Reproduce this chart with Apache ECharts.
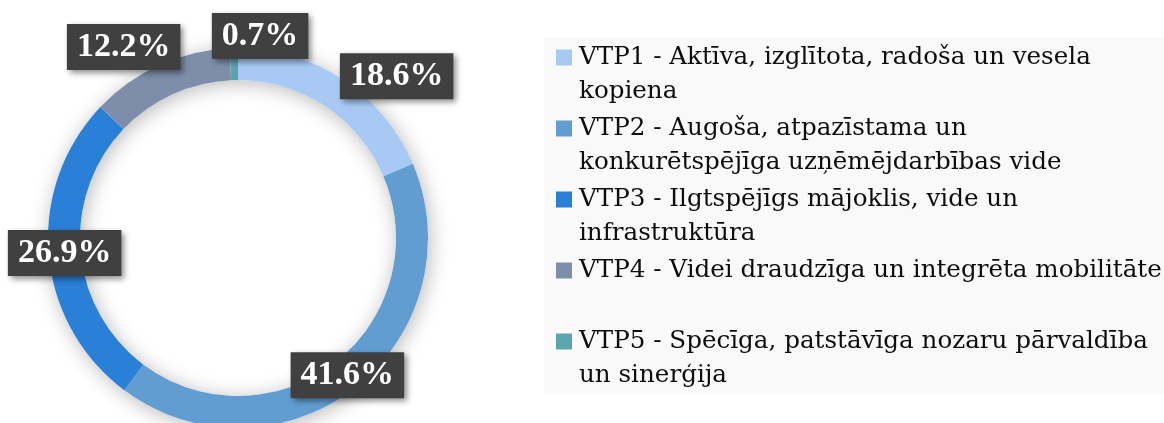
<!DOCTYPE html>
<html>
<head>
<meta charset="utf-8">
<script src="https://cdn.jsdelivr.net/npm/echarts@6/dist/echarts.min.js"></script>
<style>
html,body{margin:0;padding:0;background:#fff;}
#chart{width:1164px;height:423px;}
</style>
</head>
<body>
<div id="chart"></div>
<script>
const categories = [
  'VTP1 - Aktīva, izglītota, radoša un vesela kopiena',
  'VTP2 - Augoša, atpazīstama un konkurētspējīga uzņēmējdarbības vide',
  'VTP3 - Ilgtspējīgs mājoklis, vide un infrastruktūra',
  'VTP4 - Videi draudzīga un integrēta mobilitāte',
  'VTP5 - Spēcīga, patstāvīga nozaru pārvaldība un sinerģija'
];
const values = [18.6, 41.6, 26.9, 12.2, 0.7];
const legendLines = [
  ['VTP1 - Aktīva, izglītota, radoša un vesela', 'kopiena'],
  ['VTP2 - Augoša, atpazīstama un', 'konkurētspējīga uzņēmējdarbības vide'],
  ['VTP3 - Ilgtspējīgs mājoklis, vide un', 'infrastruktūra'],
  ['VTP4 - Videi draudzīga un integrēta mobilitāte', ''],
  ['VTP5 - Spēcīga, patstāvīga nozaru pārvaldība', 'un sinerģija']
];
const colors = ['#a9c9f5', '#629dd2', '#2a7fd6', '#7e8eaa', '#5aa5ae'];
// label nudges (px) relative to the ring-middle position
const labelShift = [[61, -14], [0, -2], [3, 0], [-41, -30], [26, -25]];

const rich = {
  t: { fontFamily: 'DejaVu Serif', fontSize: 24.6, lineHeight: 34, color: '#0d0d0d' },
  g: { width: 7, lineHeight: 34 },
  s: { width: 23, lineHeight: 34 }
};
colors.forEach((c, i) => {
  rich['c' + i] = { width: 16, height: 16, lineHeight: 34, backgroundColor: c };
});

const chart = echarts.init(document.getElementById('chart'), null, { renderer: 'canvas' });
chart.setOption({
  backgroundColor: '#ffffff',
  animation: false,
  legend: {
    orient: 'vertical',
    left: 544,
    top: 37,
    icon: 'none',
    itemWidth: 0,
    itemHeight: 0,
    itemGap: 12,
    padding: [8, 20, 5, 7],
    backgroundColor: '#f9f9f9',
    selectedMode: false,
    data: categories,
    formatter: function (name) {
      const i = categories.indexOf(name);
      const l = legendLines[i];
      return '{c' + i + '| }{g| }{t|' + l[0] + '}\n{s| }{t|' + (l[1] || ' ') + '}';
    },
    textStyle: { rich: rich }
  },
  series: [
    {
      type: 'pie',
      name: 'shadow',
      silent: true,
      z: 1,
      center: [238, 238],
      radius: [158, 190],
      label: { show: false },
      labelLine: { show: false },
      itemStyle: {
        color: '#ffffff',
        borderWidth: 0,
        shadowBlur: 20,
        shadowColor: 'rgba(0,0,0,0.28)',
        shadowOffsetX: 2,
        shadowOffsetY: 3
      },
      data: [{ value: 1, name: '' }]
    },
    {
      type: 'pie',
      z: 2,
      center: [238, 238],
      radius: [158, 190],
      startAngle: 90,
      clockwise: true,
      avoidLabelOverlap: false,
      color: colors,
      itemStyle: { borderWidth: 0 },
      emphasis: { disabled: true },
      label: {
        show: true,
        position: 'inside',
        formatter: p => p.value.toFixed(1) + '%',
        fontFamily: 'Liberation Serif',
        fontWeight: 'bold',
        fontSize: 34,
        lineHeight: 34,
        color: '#ffffff',
        backgroundColor: '#404040',
        padding: [6, 10, 6, 10],
        shadowColor: 'rgba(0,0,0,0.45)',
        shadowBlur: 6,
        shadowOffsetX: 3,
        shadowOffsetY: 3
      },
      labelLine: { show: false },
      labelLayout: function (params) {
        const r = params.labelRect;
        const s = labelShift[params.dataIndex];
        return { x: r.x + r.width / 2 + s[0], y: r.y + r.height / 2 + s[1] };
      },
      data: categories.map((n, i) => ({ name: n, value: values[i] }))
    }
  ]
});
</script>
</body>
</html>
